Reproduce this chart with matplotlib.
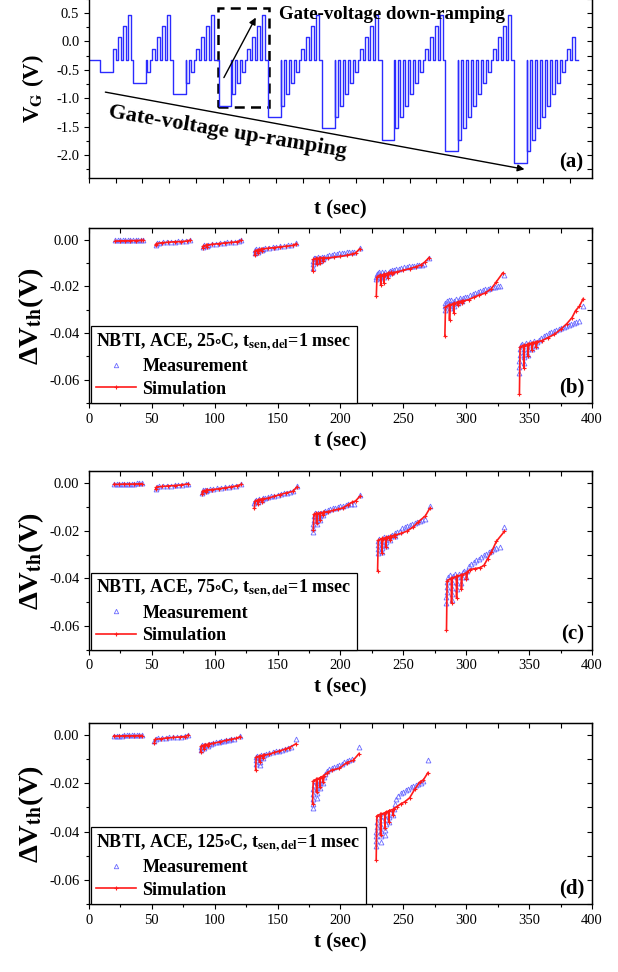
import numpy as np
import matplotlib
matplotlib.use("Agg")
import matplotlib.pyplot as plt
from matplotlib.lines import Line2D
from matplotlib.patches import Rectangle

plt.rcParams['font.family'] = ['Liberation Serif', 'DejaVu Serif']
plt.rcParams['mathtext.fontset'] = 'stix'
plt.rcParams['axes.unicode_minus'] = False

# ---------------- panel (a): gate-voltage waveform ----------------
va_base = -0.33
va_stress_start = [8.25, 33.2, 63.0, 97.0, 134.0, 174.5, 219.0, 266.5, 318.0]
va_stress_level = [-0.53, -0.73, -0.93, -1.13, -1.33, -1.53, -1.73, -1.93, -2.13]
va_up_levels = [-0.13, 0.07, 0.27, 0.47]
va_up_count = [4, 4, 4, 4, 4, 4, 4, 4, 2]
va_end = 366.0

# ---------------- panels (b)-(d): delta Vth recovery ----------------
# (t [s], dVth [V]) ; None separates the recovery groups of the simulation
b_sim = [
    (21, -0.0006), (25, -0.0005), (29, -0.0005), (33, -0.0004), (37, -0.0004), (41, -0.0003), (43, -0.0003), None,
    (53, -0.0025), (53.5, -0.0017), (58, -0.0013), (63, -0.0011), (68, -0.0009), (73, -0.0008), (78, -0.0006), (80.5, -0.0002), None,
    (90.5, -0.0036), (91, -0.0026), (93.3, -0.0024), (93.5, -0.0030), (94, -0.0023), (98, -0.0020), (103, -0.0017),
    (108, -0.0014), (113, -0.0012), (118, -0.0009), (121, -0.0003), None,
    (131.8, -0.0067), (132.2, -0.0047), (134.3, -0.0044), (134.5, -0.0056), (135, -0.0043), (137, -0.0041), (137.2, -0.0050),
    (137.8, -0.0040), (142, -0.0037), (147, -0.0034), (152, -0.0031), (157, -0.0028), (162, -0.0025), (165, -0.0017), None,
    (178, -0.0134), (178.5, -0.0085), (180.8, -0.0080), (181, -0.0106), (181.5, -0.0082), (183.3, -0.0078), (183.5, -0.0099),
    (184, -0.0080), (186, -0.0077), (186.2, -0.0090), (186.8, -0.0079), (190, -0.0078), (195, -0.0075), (200, -0.0072),
    (205, -0.0067), (209, -0.0062), (212, -0.0057), (215.3, -0.0039), None,
    (228.5, -0.0241), (229, -0.0160), (231.8, -0.0150), (232, -0.0194), (232.5, -0.0155), (234.4, -0.0147), (234.6, -0.0184),
    (235.1, -0.0150), (237.6, -0.0143), (237.8, -0.0163), (238.3, -0.0145), (240.5, -0.0140), (240.7, -0.0149), (241.5, -0.0141),
    (245, -0.0138), (250, -0.0131), (255, -0.0124), (260, -0.0116), (264, -0.0108), (267, -0.0096), (270.4, -0.0077), None,
    (283, -0.0414), (283.5, -0.0290), (286.5, -0.0278), (286.7, -0.0343), (287.2, -0.0282), (289.9, -0.0272), (290.1, -0.0314),
    (290.6, -0.0275), (293.4, -0.0266), (293.6, -0.0279), (294.1, -0.0268), (296.5, -0.0262), (296.7, -0.0270), (297.5, -0.0263),
    (302, -0.0257), (306, -0.0247), (310, -0.0238), (315, -0.0229), (320, -0.0210), (324, -0.0180), (329, -0.0143), None,
    (342.3, -0.0662), (342.8, -0.0460), (345.6, -0.0452), (345.8, -0.0550), (346.3, -0.0455), (349, -0.0447), (349.2, -0.0500),
    (349.7, -0.0448), (352.2, -0.0442), (352.4, -0.0475), (352.9, -0.0442), (355.3, -0.0438), (355.5, -0.0460), (356.2, -0.0438),
    (360, -0.0433), (365, -0.0420), (370, -0.0406), (375, -0.0385), (380, -0.0360), (384, -0.0335), (387, -0.0304),
    (390, -0.0285), (393, -0.0253),
]
b_meas = [
    (21, -0.0003), (23, -0.0003), (25, -0.0002), (27, -0.0002), (29, -0.0002), (31, -0.0002), (33, -0.0002), (35, -0.0001),
    (37, -0.0001), (39, -0.0001), (41, -0.0001), (43, 0.0),
    (53, -0.0022), (54, -0.0015), (56, -0.0013), (59, -0.0012), (62, -0.0010), (65, -0.0009), (68, -0.0008), (71, -0.0007),
    (74, -0.0006), (77, -0.0005), (80.5, -0.0001),
    (90.5, -0.0032), (91.5, -0.0024), (94, -0.0026), (95, -0.0021), (98, -0.0019), (101, -0.0017), (104, -0.0015),
    (107, -0.0014), (110, -0.0012), (113, -0.0011), (116, -0.0009), (119, -0.0007), (121, -0.0002),
    (131.8, -0.0058), (132.3, -0.0046), (133, -0.0042), (134.5, -0.0052), (135.2, -0.0041), (137.2, -0.0046), (138, -0.0038),
    (140, -0.0036), (143, -0.0034), (146, -0.0032), (149, -0.0030), (152, -0.0028), (155, -0.0026), (158, -0.0024),
    (161, -0.0022), (165, -0.0015),
    (178, -0.0120), (178, -0.0105), (178.3, -0.0090), (178.8, -0.0080), (180, -0.0078), (181, -0.0097), (181.3, -0.0085),
    (182, -0.0076), (183.5, -0.0092), (184, -0.0080), (185, -0.0074), (186.2, -0.0085), (187, -0.0074), (189, -0.0070),
    (191, -0.0067), (193, -0.0065), (195, -0.0063), (197, -0.0061), (199, -0.0059), (201, -0.0057), (203, -0.0056),
    (205, -0.0054), (207, -0.0053), (209, -0.0052), (211, -0.0051), (215.3, -0.0037),
    (228.5, -0.0170), (228.5, -0.0158), (229, -0.0146), (230, -0.0141), (231, -0.0139), (232, -0.0164), (232.2, -0.0150),
    (233, -0.0139), (234.6, -0.0161), (234.8, -0.0148), (235.6, -0.0137), (237.8, -0.0149), (238.2, -0.0138), (239, -0.0133),
    (240.7, -0.0140), (241.2, -0.0132), (242.5, -0.0129), (244.5, -0.0127), (246.5, -0.0124), (248.5, -0.0121),
    (250.5, -0.0119), (252.5, -0.0117), (254.5, -0.0115), (256.5, -0.0113), (258.5, -0.0111), (260.5, -0.0110),
    (262.5, -0.0108), (264.5, -0.0107), (266.4, -0.0106), (270.4, -0.0077),
    (283, -0.0300), (283, -0.0285), (283.5, -0.0270), (284.5, -0.0262), (286, -0.0258), (286.7, -0.0293), (287, -0.0275),
    (288, -0.0258), (290.1, -0.0283), (290.4, -0.0265), (291.5, -0.0253), (293.6, -0.0272), (294, -0.0257), (295, -0.0249),
    (296.7, -0.0262), (297.3, -0.0250), (299, -0.0247), (301, -0.0244), (303, -0.0239), (305, -0.0234), (307, -0.0229),
    (309, -0.0224), (311, -0.0219), (313, -0.0216), (315, -0.0213), (317, -0.0210), (319, -0.0206), (321, -0.0203),
    (323, -0.0201), (325, -0.0199), (327, -0.0197), (330, -0.0150),
    (342.3, -0.0570), (342.3, -0.0545), (342.3, -0.0520), (342.5, -0.0495), (342.7, -0.0470), (343.2, -0.0452),
    (344.5, -0.0446), (345.8, -0.0530), (345.9, -0.0505), (346.1, -0.0480), (346.5, -0.0455), (347.8, -0.0442),
    (349.2, -0.0495), (349.4, -0.0470), (349.8, -0.0450), (351, -0.0438), (352.4, -0.0470), (352.8, -0.0448),
    (353.8, -0.0434), (355.5, -0.0455), (356, -0.0438), (357.5, -0.0428), (359.5, -0.0420), (361.5, -0.0413),
    (363.5, -0.0407), (365.5, -0.0402), (367.5, -0.0397), (369.5, -0.0393), (371.5, -0.0389), (373.5, -0.0384),
    (375.5, -0.0379), (377.5, -0.0374), (379.5, -0.0369), (381.5, -0.0364), (383.5, -0.0360), (385.5, -0.0356),
    (387.5, -0.0352), (389.5, -0.0349), (392.7, -0.0286),
]

c_sim = [
    (20, -0.0004), (24, -0.0004), (28, -0.0003), (32, -0.0003), (36, -0.0003), (40, -0.0002), (42, -0.0002), None,
    (53, -0.0025), (53.5, -0.0016), (58, -0.0013), (63, -0.0011), (68, -0.0009), (73, -0.0007), (78.8, -0.0002), None,
    (89.9, -0.0045), (90.4, -0.0032), (93, -0.0029), (93.2, -0.0037), (93.7, -0.0029), (98, -0.0026), (103, -0.0023),
    (108, -0.0019), (113, -0.0015), (118, -0.0010), (121, -0.0004), None,
    (131.5, -0.0105), (132, -0.0075), (134.3, -0.0070), (134.5, -0.0088), (135, -0.0069), (137.3, -0.0066), (137.5, -0.0078),
    (138, -0.0066), (142, -0.0063), (147, -0.0055), (152, -0.0047), (157, -0.0040), (162, -0.0034), (165.2, -0.0016), None,
    (178.4, -0.0197), (178.9, -0.0130), (180.8, -0.0126), (181, -0.0169), (181.5, -0.0128), (183.4, -0.0124), (183.6, -0.0155),
    (184.1, -0.0126), (186.1, -0.0122), (186.3, -0.0134), (186.8, -0.0122), (190, -0.0119), (194, -0.0114), (198, -0.0109),
    (202, -0.0103), (206, -0.0090), (209, -0.0080), (212, -0.0074), (215.3, -0.0055), None,
    (229.5, -0.0368), (230, -0.0240), (232.8, -0.0232), (233, -0.0295), (233.5, -0.0236), (235.9, -0.0228), (236.1, -0.0267),
    (236.6, -0.0230), (239.3, -0.0223), (239.5, -0.0239), (240, -0.0224), (242.8, -0.0219), (243, -0.0225), (243.6, -0.0218),
    (248, -0.0211), (253, -0.0201), (258, -0.0183), (262, -0.0162), (267.5, -0.0137), (271, -0.0105), None,
    (284.3, -0.0617), (284.8, -0.0410), (288.1, -0.0400), (288.3, -0.0502), (288.8, -0.0400), (292.1, -0.0392), (292.3, -0.0481),
    (292.8, -0.0392), (296, -0.0385), (296.2, -0.0446), (296.7, -0.0385), (300, -0.0378), (300.2, -0.0405), (300.8, -0.0375),
    (303, -0.0363), (307, -0.0359), (311, -0.0355), (314, -0.0346), (317, -0.0318), (320, -0.0290), (324, -0.0244),
    (330.4, -0.0202),
]
c_meas = [
    (20, -0.0002), (22, -0.0002), (24, -0.0002), (26, -0.0001), (28, -0.0001), (30, -0.0001), (32, -0.0001), (34, -0.0001),
    (36, -0.0001), (38, 0.0), (40, 0.0), (42, 0.0),
    (53, -0.0022), (54, -0.0014), (56, -0.0012), (59, -0.0011), (62, -0.0010), (65, -0.0009), (68, -0.0008), (71, -0.0006),
    (74, -0.0005), (77, -0.0004), (78.8, -0.0001),
    (89.9, -0.0040), (90.5, -0.0030), (92, -0.0028), (93.2, -0.0034), (94, -0.0027), (96, -0.0025), (99, -0.0023),
    (102, -0.0021), (105, -0.0019), (108, -0.0017), (111, -0.0015), (114, -0.0013), (117, -0.0011), (121, -0.0003),
    (131.5, -0.0084), (131.8, -0.0074), (133, -0.0068), (134.5, -0.0080), (135, -0.0067), (137.5, -0.0072), (138.2, -0.0063),
    (140, -0.0061), (142.5, -0.0058), (145, -0.0055), (147.5, -0.0052), (150, -0.0048), (152.5, -0.0045), (155, -0.0042),
    (157.5, -0.0039), (160, -0.0036), (162, -0.0034), (165.2, -0.0011),
    (178.4, -0.0207), (178.4, -0.0190), (178.5, -0.0172), (178.7, -0.0155), (179, -0.0138), (179.7, -0.0126), (181, -0.0172),
    (181.1, -0.0155), (181.4, -0.0138), (182, -0.0125), (183.6, -0.0155), (183.8, -0.0138), (184.3, -0.0124),
    (186.3, -0.0134), (186.8, -0.0121), (188, -0.0117), (190, -0.0113), (192, -0.0109), (194, -0.0105), (196, -0.0102),
    (198, -0.0099), (200, -0.0096), (202, -0.0094), (204, -0.0091), (206, -0.0089), (208, -0.0087), (210.5, -0.0085),
    (215.3, -0.0049),
    (229.5, -0.0295), (229.5, -0.0278), (229.7, -0.0260), (230, -0.0243), (231, -0.0233), (233, -0.0290), (233.1, -0.0272),
    (233.3, -0.0254), (233.8, -0.0238), (234.8, -0.0228), (236.1, -0.0265), (236.3, -0.0248), (236.8, -0.0232),
    (238, -0.0224), (239.5, -0.0237), (240, -0.0223), (241.3, -0.0216), (243, -0.0222), (243.6, -0.0211), (245, -0.0205),
    (247, -0.0199), (249, -0.0190), (251, -0.0184), (253, -0.0179), (255, -0.0175), (257, -0.0171), (259, -0.0167),
    (261, -0.0163), (263, -0.0160), (265, -0.0156), (267, -0.0152), (271, -0.0096),
    (284.3, -0.0502), (284.3, -0.0480), (284.4, -0.0458), (284.6, -0.0436), (285, -0.0414), (285.8, -0.0396), (287, -0.0388),
    (288.3, -0.0490), (288.4, -0.0465), (288.6, -0.0440), (289, -0.0415), (289.8, -0.0392), (291, -0.0383),
    (292.3, -0.0445), (292.5, -0.0420), (293, -0.0395), (294, -0.0380), (296.2, -0.0420), (296.5, -0.0395),
    (297.3, -0.0375), (298.5, -0.0368), (300.2, -0.0395), (300.7, -0.0370), (302, -0.0348), (304, -0.0338),
    (306, -0.0331), (308, -0.0324), (310, -0.0317), (312, -0.0310), (314, -0.0303), (316, -0.0296), (318, -0.0290),
    (320, -0.0283), (322, -0.0277), (324, -0.0272), (326.5, -0.0268), (330.4, -0.0182),
]

d_sim = [
    (19.7, -0.0004), (24, -0.0004), (28, -0.0003), (32, -0.0003), (36, -0.0003), (40, -0.0002), (42, -0.0002), None,
    (52, -0.0032), (52.5, -0.0018), (57, -0.0015), (62, -0.0012), (67, -0.0010), (72, -0.0008), (76, -0.0006), (79, 0.0), None,
    (88.8, -0.0069), (89.3, -0.0045), (91.5, -0.0041), (91.7, -0.0058), (92.2, -0.0040), (94.5, -0.0038), (94.7, -0.0046),
    (95.2, -0.0037), (99, -0.0034), (104, -0.0028), (109, -0.0022), (113, -0.0018), (117, -0.0014), (120.4, -0.0006), None,
    (132.5, -0.0146), (133, -0.0092), (135.4, -0.0087), (135.6, -0.0110), (136.1, -0.0087), (138.1, -0.0084), (138.3, -0.0095),
    (138.8, -0.0083), (143.5, -0.0079), (147.5, -0.0072), (151.5, -0.0066), (155.5, -0.0059), (159.4, -0.0052),
    (164.6, -0.0036), None,
    (177.8, -0.0284), (178.3, -0.0190), (180.8, -0.0183), (181, -0.0236), (181.5, -0.0183), (183.4, -0.0178), (183.6, -0.0215),
    (184.1, -0.0176), (186.1, -0.0170), (186.3, -0.0194), (186.8, -0.0168), (189, -0.0158), (193, -0.0145), (199, -0.0138),
    (205, -0.0114), (210, -0.0105), (214.7, -0.0077), None,
    (228.4, -0.0517), (228.9, -0.0335), (231.7, -0.0328), (231.9, -0.0415), (232.4, -0.0328), (235.1, -0.0322),
    (235.3, -0.0387), (235.8, -0.0320), (238.2, -0.0315), (238.4, -0.0360), (238.9, -0.0313), (241.6, -0.0308),
    (241.8, -0.0332), (242.4, -0.0305), (245, -0.0296), (248, -0.0285), (251, -0.0277), (255, -0.0260), (259, -0.0225),
    (263, -0.0195), (266, -0.0185), (269.5, -0.0156),
]
d_meas = [
    (19.7, -0.0002), (22, -0.0002), (24, -0.0002), (26, -0.0002), (28, -0.0001), (30, -0.0001), (32, -0.0001), (34, -0.0001),
    (36, -0.0001), (38, -0.0001), (40, 0.0), (42, 0.0),
    (52, -0.0025), (53, -0.0016), (55, -0.0014), (58, -0.0013), (61, -0.0011), (64, -0.0010), (67, -0.0009), (70, -0.0008),
    (73, -0.0006), (76, -0.0005), (79, 0.0),
    (88.8, -0.0060), (89, -0.0050), (89.6, -0.0042), (91.7, -0.0052), (92.2, -0.0041), (94.7, -0.0044), (95.4, -0.0036),
    (97, -0.0035), (99, -0.0033), (101, -0.0030), (103, -0.0028), (105, -0.0026), (107, -0.0024), (109, -0.0022),
    (111, -0.0020), (113, -0.0018), (115, -0.0016), (120.4, -0.0003),
    (132.5, -0.0120), (132.6, -0.0103), (133, -0.0090), (134, -0.0085), (135.6, -0.0125), (135.7, -0.0110), (136, -0.0095),
    (136.8, -0.0084), (138.3, -0.0095), (139, -0.0082), (141, -0.0079), (143.5, -0.0076), (146, -0.0072), (148.5, -0.0068),
    (151, -0.0064), (153.5, -0.0060), (156, -0.0056), (158.5, -0.0052), (161, -0.0049), (164.6, -0.0018),
    (177.8, -0.0304), (177.8, -0.0285), (177.9, -0.0265), (178.1, -0.0245), (178.4, -0.0225), (178.8, -0.0205),
    (179.5, -0.0190), (181, -0.0260), (181.1, -0.0240), (181.3, -0.0220), (181.7, -0.0200), (182.3, -0.0185),
    (183.6, -0.0219), (183.8, -0.0200), (184.4, -0.0180), (186.3, -0.0197), (186.8, -0.0175), (188, -0.0160),
    (189.5, -0.0148), (191, -0.0139), (193, -0.0135), (195, -0.0131), (197, -0.0127), (199, -0.0123), (201, -0.0118),
    (203, -0.0113), (205, -0.0108), (207, -0.0103), (209, -0.0099), (214.7, -0.0050),
    (228.4, -0.0460), (228.4, -0.0440), (228.5, -0.0420), (228.6, -0.0400), (228.8, -0.0380), (229.2, -0.0360),
    (229.8, -0.0340), (231.9, -0.0442), (232, -0.0420), (232.2, -0.0398), (232.5, -0.0376), (233, -0.0354),
    (233.8, -0.0335), (235.3, -0.0415), (235.5, -0.0392), (235.8, -0.0370), (236.4, -0.0348), (237.2, -0.0328),
    (238.4, -0.0360), (238.8, -0.0338), (239.6, -0.0318), (241.8, -0.0332), (242.4, -0.0305), (243, -0.0285),
    (244.5, -0.0265), (246, -0.0252), (248, -0.0242), (250, -0.0234), (252, -0.0228), (254, -0.0222), (256, -0.0217),
    (258, -0.0212), (260, -0.0207), (262, -0.0202), (264, -0.0197), (266, -0.0191), (269.5, -0.0105),
]

panel_temps = ['25', '75', '125']
panel_tags = ['(b)', '(c)', '(d)']

BLUE = '#2b2bff'
MEAS_C = '#6a6aff'
SIM_C = '#ff1a1a'


def to_xy(points):
    arr = np.array([(np.nan, np.nan) if p is None else p for p in points], dtype=float)
    return arr[:, 0], arr[:, 1]


def gate_waveform():
    t, v = [0.0], [va_base]
    stress_len, gap, period, width = 9.5, 0.4, 3.75, 2.2
    for k, (s, lv) in enumerate(zip(va_stress_start, va_stress_level)):
        t += [s, s, s + stress_len, s + stress_len]
        v += [va_base, lv, lv, va_base]
        levels = (va_stress_level[:k][::-1] + va_up_levels)[:k + va_up_count[k]]
        for j, pl in enumerate(levels):
            p0 = s + stress_len + gap + j * period
            t += [p0, p0, p0 + width, p0 + width]
            v += [va_base, pl, pl, va_base]
    t.append(va_end)
    v.append(va_base)
    return t, v


def style_axes(ax):
    for sp in ax.spines.values():
        sp.set_linewidth(1.0)
    ax.tick_params(which='both', direction='out', labelsize=10.5, width=0.8)
    ax.tick_params(which='major', length=3.5)
    ax.tick_params(which='minor', length=2.5)


fig = plt.figure(figsize=(6.18, 9.72), dpi=100)

# ---- (a) ----
axa = fig.add_axes([0.144, 0.8169, 0.8139, 0.1845])
ta, vga = gate_waveform()
axa.plot(ta, vga, color=BLUE, lw=1.0)
axa.set_xlim(0, 376.5)
axa.set_ylim(-2.4, 0.75)
axa.set_xticks(np.arange(0, 361, 20))
axa.set_yticks([0.5, 0.0, -0.5, -1.0, -1.5, -2.0])
axa.set_yticks(np.arange(-2.25, 0.76, 0.25), minor=True)
axa.tick_params(axis='x', labelbottom=False)
axa.yaxis.set_major_formatter(matplotlib.ticker.FormatStrFormatter('%.1f'))
style_axes(axa)
sec = axa.secondary_yaxis('right')
sec.set_yticks([0.5, 0.0, -0.5, -1.0, -1.5, -2.0])
sec.set_yticks(np.arange(-2.25, 0.76, 0.25), minor=True)
sec.tick_params(which='both', direction='in', labelright=False, length=3.5, width=0.8)
axa.set_ylabel('V$_{\\mathbf{G}}$ (V)', fontsize=16.5, fontweight='bold', labelpad=7)
axa.set_xlabel('t (sec)', fontsize=15, fontweight='bold', labelpad=12)
axa.add_patch(Rectangle((96.2, -1.155), 38.3, 1.745, fill=False, ls=(0, (4, 2.5)), lw=1.8, ec='black'))
axa.annotate('', xy=(125.8, 0.46), xytext=(100, -0.68),
             arrowprops=dict(arrowstyle='-|>', color='black', lw=1.0, mutation_scale=10))
axa.annotate('', xy=(328, -2.256), xytext=(10.2, -0.883),
             arrowprops=dict(arrowstyle='-|>', color='black', lw=1.0, mutation_scale=10))
axa.text(142.5, 0.48, 'Gate-voltage down-ramping', fontsize=13.5, fontweight='bold', va='center', ha='left')
axa.text(104, -1.6, 'Gate-voltage up-ramping', fontsize=16, fontweight='bold', va='center', ha='center',
         rotation=-9.5, rotation_mode='anchor')
axa.text(0.982, 0.03, '(a)', transform=axa.transAxes, fontsize=15, fontweight='bold', ha='right', va='bottom')

# ---- (b)-(d) ----
boxes = [(228, 403), (471.5, 649.5), (723, 904)]
datasets = [(b_sim, b_meas), (c_sim, c_meas), (d_sim, d_meas)]
H = 972.0
for (top, bot), (sim, meas), temp, tag in zip(boxes, datasets, panel_temps, panel_tags):
    ax = fig.add_axes([0.144, 1 - bot / H, 0.8139, (bot - top) / H])
    mt, mv = to_xy(meas)
    st, sv = to_xy(sim)
    ax.plot(mt, mv, ls='none', marker='^', ms=3.5, mfc='none', mec=MEAS_C, mew=0.6)
    ax.plot(st, sv, color=SIM_C, lw=1.2, marker='+', ms=3, mew=0.8)
    ax.set_xlim(0, 400)
    ax.set_ylim(-0.07, 0.005)
    ax.set_xticks(np.arange(0, 401, 50))
    ax.set_xticks(np.arange(0, 401, 25), minor=True)
    ax.set_yticks([0.0, -0.02, -0.04, -0.06])
    ax.set_yticks(np.arange(-0.07, 0.001, 0.01), minor=True)
    ax.yaxis.set_major_formatter(matplotlib.ticker.FormatStrFormatter('%.2f'))
    style_axes(ax)
    sx = ax.secondary_xaxis('top')
    sx.set_xticks(np.arange(0, 401, 50))
    sx.set_xticks(np.arange(0, 401, 25), minor=True)
    sx.tick_params(which='both', direction='in', labeltop=False, length=3.5, width=0.8)
    sy = ax.secondary_yaxis('right')
    sy.set_yticks([0.0, -0.02, -0.04, -0.06])
    sy.set_yticks(np.arange(-0.07, 0.001, 0.01), minor=True)
    sy.tick_params(which='both', direction='in', labelright=False, length=3.5, width=0.8)
    ax.set_xlabel('t (sec)', fontsize=15, fontweight='bold', labelpad=4)
    ax.set_ylabel('\u0394V$_{\\mathbf{th}}$(V)', fontsize=20.5, fontweight='bold', labelpad=2)
    handles = [
        Line2D([], [], ls='none', marker='^', ms=3.2, mfc='none', mec=MEAS_C, mew=0.6),
        Line2D([], [], color=SIM_C, lw=1.2, marker='+', ms=3, mew=0.8),
    ]
    title = 'NBTI, ACE, %s$\\circ$C, t$_{\\mathbf{sen,del}}$=1 msec' % temp
    leg = ax.legend(handles, ['Measurement', 'Simulation'], loc='lower left', bbox_to_anchor=(0.004, 0.0),
                    borderaxespad=0, title=title, alignment='left', fancybox=False, edgecolor='black',
                    framealpha=1, numpoints=1, handlelength=2.2, handletextpad=0.35, labelspacing=0.3,
                    borderpad=0.3, prop={'size': 13, 'weight': 'bold'},
                    title_fontproperties={'size': 13, 'weight': 'bold'})
    leg.get_frame().set_linewidth(0.9)
    ax.text(0.985, 0.03, tag, transform=ax.transAxes, fontsize=15, fontweight='bold', ha='right', va='bottom')

fig.savefig('out.png', dpi=100)
